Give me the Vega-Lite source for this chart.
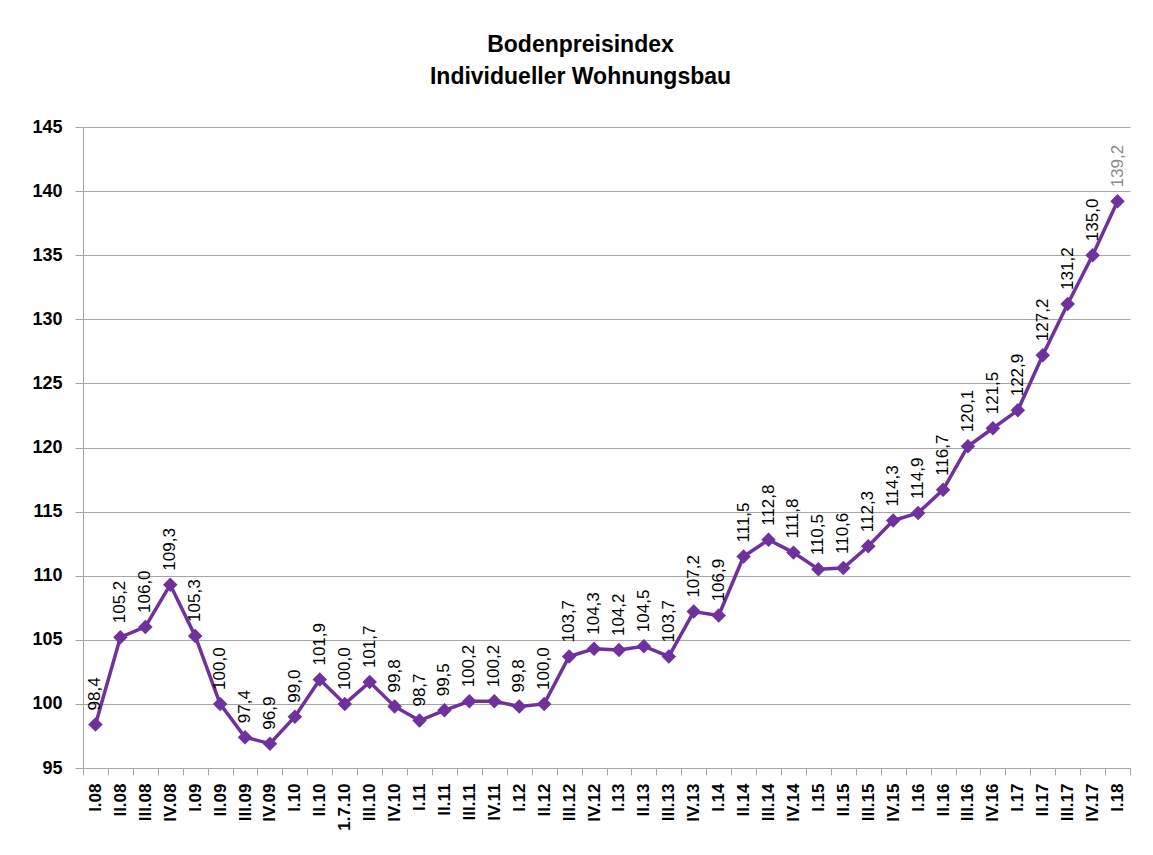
{
  "$schema": "https://vega.github.io/schema/vega-lite/v6.json",
  "autosize": "none",
  "width": 1047,
  "height": 641,
  "padding": {"left": 83, "top": 127, "right": 23, "bottom": 87},
  "background": "white",
  "title": {
    "text": ["Bodenpreisindex", "Individueller Wohnungsbau"],
    "font": "Liberation Sans",
    "fontSize": 23,
    "fontWeight": "bold",
    "color": "#000000",
    "lineHeight": 32,
    "anchor": "middle",
    "dx": -26,
    "offset": 29
  },
  "config": {
    "view": {"stroke": null},
    "locale": {"number": {"decimal": ",", "thousands": ".", "grouping": [3], "currency": ["", " €"]}}
  },
  "data": {
    "values": [
      {"q": "I.08", "v": 98.4}, {"q": "II.08", "v": 105.2}, {"q": "III.08", "v": 106.0}, {"q": "IV.08", "v": 109.3},
      {"q": "I.09", "v": 105.3}, {"q": "II.09", "v": 100.0}, {"q": "III.09", "v": 97.4}, {"q": "IV.09", "v": 96.9},
      {"q": "I.10", "v": 99.0}, {"q": "II.10", "v": 101.9}, {"q": "1.7.10", "v": 100.0}, {"q": "III.10", "v": 101.7},
      {"q": "IV.10", "v": 99.8}, {"q": "I.11", "v": 98.7}, {"q": "II.11", "v": 99.5}, {"q": "III.11", "v": 100.2},
      {"q": "IV.11", "v": 100.2}, {"q": "I.12", "v": 99.8}, {"q": "II.12", "v": 100.0}, {"q": "III.12", "v": 103.7},
      {"q": "IV.12", "v": 104.3}, {"q": "I.13", "v": 104.2}, {"q": "II.13", "v": 104.5}, {"q": "III.13", "v": 103.7},
      {"q": "IV.13", "v": 107.2}, {"q": "I.14", "v": 106.9}, {"q": "II.14", "v": 111.5}, {"q": "III.14", "v": 112.8},
      {"q": "IV.14", "v": 111.8}, {"q": "I.15", "v": 110.5}, {"q": "II.15", "v": 110.6}, {"q": "III.15", "v": 112.3},
      {"q": "IV.15", "v": 114.3}, {"q": "I.16", "v": 114.9}, {"q": "II.16", "v": 116.7}, {"q": "III.16", "v": 120.1},
      {"q": "IV.16", "v": 121.5}, {"q": "I.17", "v": 122.9}, {"q": "II.17", "v": 127.2}, {"q": "III.17", "v": 131.2},
      {"q": "IV.17", "v": 135.0}, {"q": "I.18", "v": 139.2}
    ]
  },
  "encoding": {
    "x": {
      "field": "q",
      "type": "ordinal",
      "sort": null,
      "bandPosition": 0.5,
      "scale": {"type": "band", "paddingInner": 0, "paddingOuter": 0},
      "axis": {
        "title": null,
        "tickBand": "extent",
        "labelAngle": 270,
        "labelAlign": "right",
        "labelBaseline": "middle",
        "labelFont": "Liberation Sans",
        "labelFontSize": 17,
        "labelFontWeight": "bold",
        "labelColor": "#000000",
        "labelPadding": 8,
        "domainColor": "#a6a6a6",
        "tickColor": "#a6a6a6",
        "tickSize": 7,
        "grid": false
      }
    },
    "y": {
      "field": "v",
      "type": "quantitative",
      "scale": {"domain": [95, 145], "nice": false, "zero": false},
      "axis": {
        "title": null,
        "values": [95, 100, 105, 110, 115, 120, 125, 130, 135, 140, 145],
        "labelFont": "Liberation Sans",
        "labelFontSize": 18,
        "labelFontWeight": "bold",
        "labelColor": "#000000",
        "labelPadding": 13,
        "tickSize": 8,
        "tickColor": "#a6a6a6",
        "domainColor": "#a6a6a6",
        "gridColor": "#a6a6a6",
        "gridWidth": 1
      }
    }
  },
  "layer": [
    {"mark": {"type": "line", "color": "#7030A0", "strokeWidth": 3.5}},
    {"mark": {"type": "point", "shape": "diamond", "filled": true, "size": 210, "color": "#7030A0", "opacity": 1}},
    {
      "mark": {"type": "text", "angle": 270, "align": "left", "baseline": "middle", "dx": 14, "font": "Liberation Sans", "fontSize": 17},
      "encoding": {
        "text": {"field": "v", "type": "quantitative", "format": ".1f"},
        "color": {
          "condition": {"test": "datum.q === 'I.18'", "value": "#8c8c8c"},
          "value": "#000000"
        }
      }
    }
  ]
}
